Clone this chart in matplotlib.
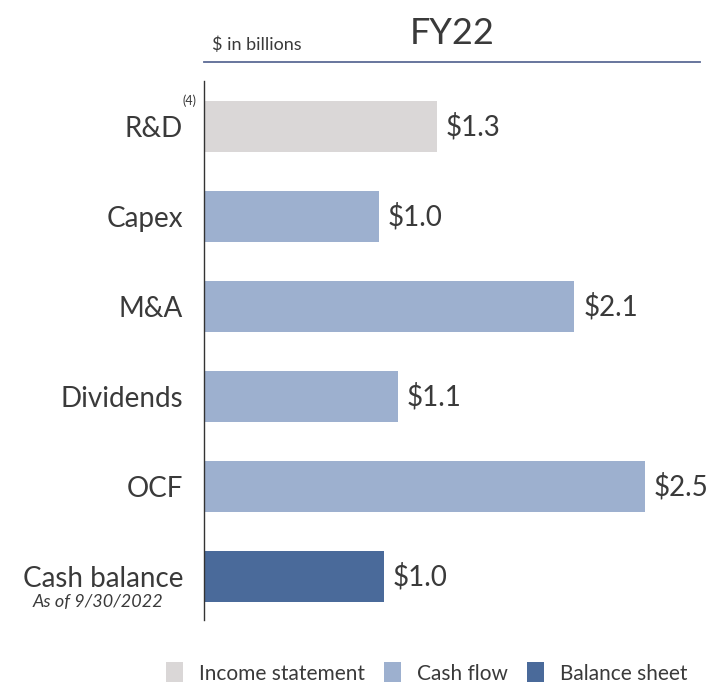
import matplotlib
matplotlib.use("Agg")
import matplotlib.pyplot as plt
from matplotlib.lines import Line2D
from matplotlib.patches import Patch

plt.rcParams["font.family"] = ["Lato", "DejaVu Sans"]

categories = ["R&D", "Capex", "M&A", "Dividends", "OCF", "Cash balance"]
# bar lengths (the labels are rounded)
values = [1.32, 0.99, 2.1, 1.1, 2.5, 1.02]
groups = ["Income statement", "Cash flow", "Cash flow", "Cash flow", "Cash flow", "Balance sheet"]
value_labels = ["$1.3", "$1.0", "$2.1", "$1.1", "$2.5", "$1.0"]

group_colors = {
    "Income statement": "#DAD7D7",
    "Cash flow": "#9DB0CF",
    "Balance sheet": "#4A6A9A",
}
TEXT = "#3a3a3a"

W, H = 711, 682
fig = plt.figure(figsize=(W / 100, H / 100), dpi=100)

# axes box in pixel coords
ax_left, ax_right, ax_top, ax_bottom = 204, 700, 81, 620
ax = fig.add_axes([ax_left / W, 1 - ax_bottom / H, (ax_right - ax_left) / W, (ax_bottom - ax_top) / H])

y = list(range(len(categories)))
colors = [group_colors[g] for g in groups]
ax.barh(y, values, height=0.56, color=colors, zorder=2)

for yi, v, lab in zip(y, values, value_labels):
    ax.text(v + 0.05, yi, lab, va="center", ha="left", fontsize=20, color=TEXT)

ax.set_xlim(0, 2.5 * (ax_right - ax_left) / 441)
ax.set_ylim(5.483, -0.506)
ax.set_yticks(y)
ax.set_yticklabels(categories, fontsize=20, color=TEXT)
ax.tick_params(axis="y", length=0, pad=15)
ax.set_xticks([])
for s in ("top", "right", "bottom"):
    ax.spines[s].set_visible(False)
ax.spines["left"].set_color("#333333")
ax.spines["left"].set_linewidth(1.0)

# subtitle under Cash balance
ax.text(-0.23, 5.28, "As of 9/30/2022", ha="right", va="center", fontsize=13,
        style="italic", color=TEXT, clip_on=False)
# footnote marker on R&D
ax.text(-0.04, -0.29, "(4)", ha="right", va="center", fontsize=9, color=TEXT, clip_on=False)

# header
fig.add_artist(Line2D([ax_left / W, ax_right / W], [1 - 62 / H, 1 - 62 / H],
                      color="#5C6A95", linewidth=1.3))
fig.text(212 / W, 1 - 45 / H, "$ in billions", ha="left", va="center", fontsize=13, color=TEXT)
fig.text(452 / W, 1 - 33 / H, "FY22", ha="center", va="center", fontsize=26, color=TEXT)

handles = [Patch(facecolor=c, edgecolor="none") for c in group_colors.values()]
fig.legend(handles, list(group_colors.keys()), loc="center", bbox_to_anchor=(427 / W, 1 - 673 / H),
           ncol=3, frameon=False, fontsize=15, handlelength=0.8, handleheight=1.1,
           handletextpad=0.8, columnspacing=0.9, labelcolor=TEXT)

fig.savefig("out.png", dpi=100)
